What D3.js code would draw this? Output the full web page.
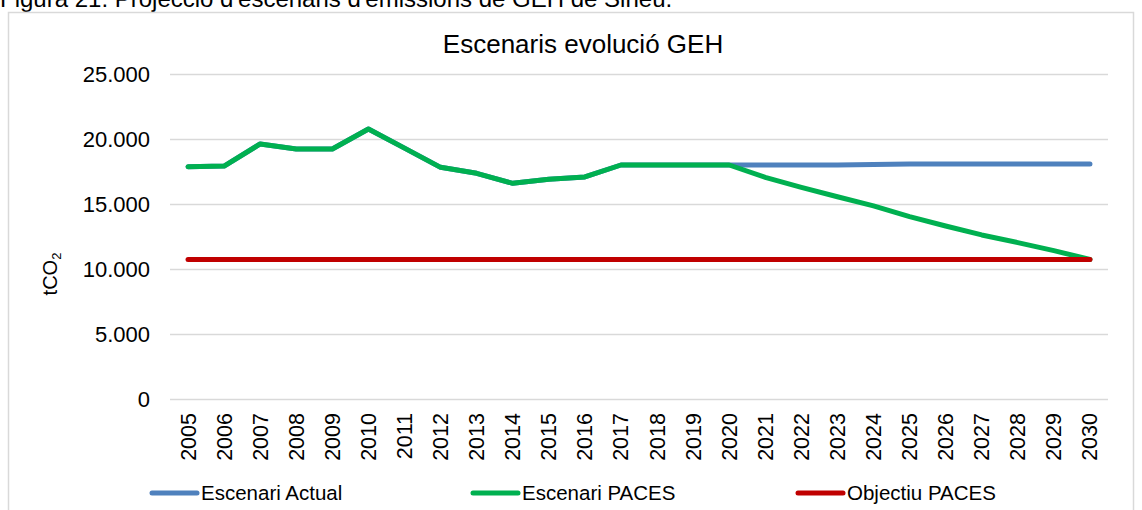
<!DOCTYPE html>
<html>
<head>
<meta charset="utf-8">
<script src="https://cdn.jsdelivr.net/npm/d3@7"></script>
<style>
  html, body { margin: 0; padding: 0; background: #ffffff; }
  svg { display: block; font-family: "Liberation Sans", Arial, sans-serif; }
</style>
</head>
<body>
<svg id="chart"></svg>
<script>
const years = d3.range(2005, 2031).map(String);

const actual = [17870, 17920, 19620, 19230, 19230, 20770, 19300, 17820, 17360, 16590,
  16900, 17080, 18000, 18000, 18000, 18000, 18000, 18000, 18000, 18030,
  18080, 18080, 18080, 18080, 18080, 18080];

const paces = [17870, 17920, 19620, 19230, 19230, 20770, 19300, 17820, 17360, 16590,
  16900, 17080, 18000, 18000, 18000, 18000, 17050, 16280, 15560, 14850,
  14030, 13310, 12620, 12030, 11410, 10740];

const objectiu = years.map(() => 10740);

const yTicks = [0, 5000, 10000, 15000, 20000, 25000];

const series = [
  { name: 'Escenari Actual', values: actual, color: '#4f81bd' },
  { name: 'Escenari PACES', values: paces, color: '#00b050' },
  { name: 'Objectiu PACES', values: objectiu, color: '#c00000' }
];

const W = 1142, H = 510;
const margin = { top: 74, right: 34, bottom: 111, left: 170 };

const svg = d3.select('#chart')
  .attr('width', W)
  .attr('height', H);

// caption above the chart frame (cut off at the top edge in the source)
svg.append('text')
  .attr('x', 0)
  .attr('y', 7)
  .attr('font-size', 24)
  .attr('fill', '#000')
  .text("Figura 21: Projecció d'escenaris d'emissions de GEH de Sineu.");

// chart frame
svg.append('rect')
  .attr('x', 8.5)
  .attr('y', 12.5)
  .attr('width', 1125)
  .attr('height', 520)
  .attr('fill', '#fff')
  .attr('stroke', '#d9d9d9')
  .attr('stroke-width', 1.5);

const x = d3.scaleBand()
  .domain(years)
  .range([margin.left, W - margin.right])
  .padding(0);

const y = d3.scaleLinear()
  .domain([0, 25000])
  .range([H - margin.bottom, margin.top]);

const locale = d3.formatLocale({ decimal: ',', thousands: '.', grouping: [3], currency: ['', '€'] });
const fmt = locale.format(',d');

// gridlines
svg.append('g')
  .selectAll('line')
  .data(yTicks)
  .join('line')
  .attr('x1', margin.left)
  .attr('x2', W - margin.right)
  .attr('y1', d => Math.round(y(d)) + 0.5)
  .attr('y2', d => Math.round(y(d)) + 0.5)
  .attr('stroke', '#d9d9d9')
  .attr('stroke-width', 1.5);

// y axis labels
const yAxis = svg.append('g')
  .attr('transform', `translate(${margin.left},0)`)
  .call(d3.axisLeft(y).tickValues(yTicks).tickFormat(fmt).tickSize(0).tickPadding(20));
yAxis.select('.domain').remove();
yAxis.selectAll('text')
  .attr('font-size', 22)
  .attr('font-family', '"Liberation Sans", Arial, sans-serif')
  .attr('fill', '#000');

// x axis labels (rotated)
const xAxis = svg.append('g')
  .attr('transform', `translate(0,${y(0)})`)
  .call(d3.axisBottom(x).tickSize(0));
xAxis.select('.domain').remove();
xAxis.selectAll('text')
  .attr('font-size', 21.5)
  .attr('font-family', '"Liberation Sans", Arial, sans-serif')
  .attr('fill', '#000')
  .attr('transform', 'rotate(-90)')
  .attr('text-anchor', 'end')
  .attr('x', -14)
  .attr('y', 0)
  .attr('dy', '0.35em');

// y axis title tCO2
const yTitle = svg.append('text')
  .attr('transform', `translate(57,274) rotate(-90)`)
  .attr('text-anchor', 'middle')
  .attr('font-size', 20)
  .attr('fill', '#000');
yTitle.append('tspan').text('tCO');
yTitle.append('tspan').attr('font-size', 13).attr('dy', 4).text('2');

// chart title
svg.append('text')
  .attr('x', 583)
  .attr('y', 53)
  .attr('text-anchor', 'middle')
  .attr('font-size', 26)
  .attr('fill', '#000')
  .text('Escenaris evolució GEH');

// lines
const line = d3.line()
  .x((d, i) => x(years[i]) + x.bandwidth() / 2)
  .y(d => y(d));

svg.append('g')
  .selectAll('path')
  .data(series)
  .join('path')
  .attr('fill', 'none')
  .attr('stroke', d => d.color)
  .attr('stroke-width', 5)
  .attr('stroke-linejoin', 'round')
  .attr('stroke-linecap', 'round')
  .attr('d', d => line(d.values));

// legend
const legendX = [152, 473, 798];
const legend = svg.append('g')
  .selectAll('g')
  .data(series)
  .join('g')
  .attr('transform', (d, i) => `translate(${legendX[i]},493)`);

legend.append('line')
  .attr('x1', 0)
  .attr('x2', 45)
  .attr('stroke', d => d.color)
  .attr('stroke-width', 5)
  .attr('stroke-linecap', 'round');

legend.append('text')
  .attr('x', 49)
  .attr('dy', '0.35em')
  .attr('font-size', 20.5)
  .attr('fill', '#000')
  .text(d => d.name);
</script>
</body>
</html>
